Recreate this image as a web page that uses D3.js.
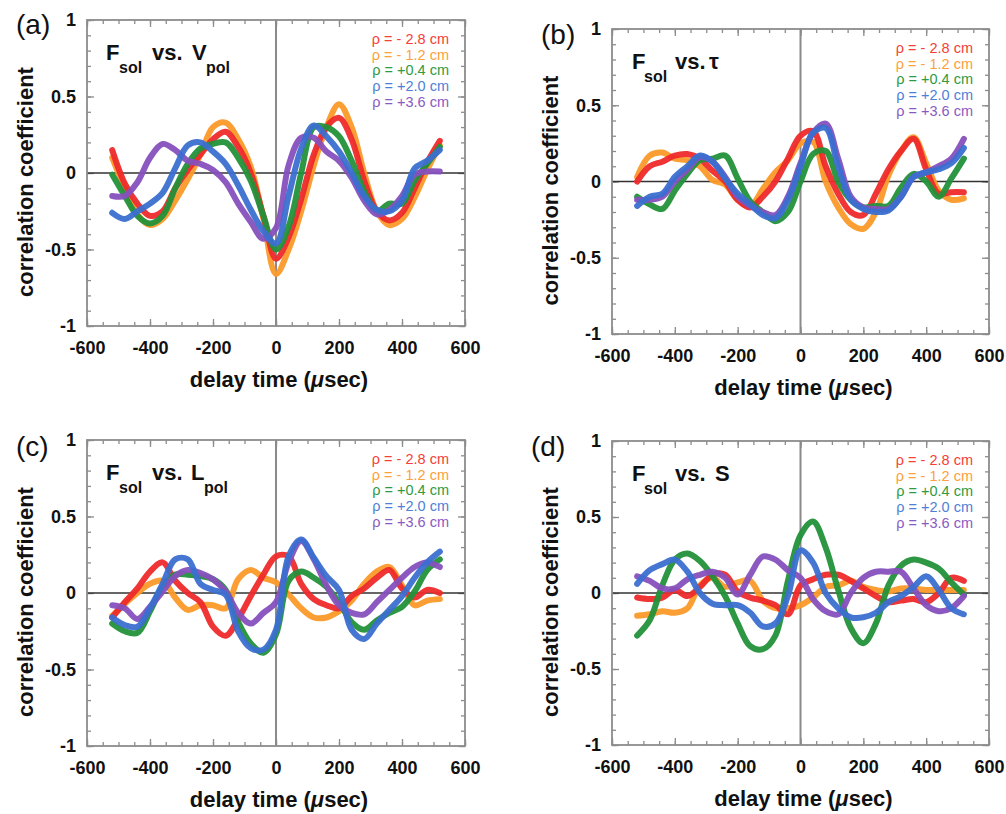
<!DOCTYPE html>
<html>
<head>
<meta charset="utf-8">
<script src="https://cdn.jsdelivr.net/npm/d3@7"></script>
<style>
  body { margin: 0; background: #fff; }
  svg { font-family: "Liberation Sans", Arial, sans-serif; }
</style>
</head>
<body>
<div id="chart"></div>
<script>
// delay axis shared by all series (usec)
const delays = [-520, -480, -440, -400, -360, -320, -280, -240, -200, -160, -120, -80, -40,
  0, 40, 80, 120, 160, 200, 240, 280, 320, 360, 400, 440, 480, 520];

const rhoLabels = ["ρ = - 2.8 cm", "ρ = - 1.2 cm", "ρ = +0.4 cm", "ρ = +2.0 cm", "ρ = +3.6 cm"];
const xTicks = [-600, -400, -200, 0, 200, 400, 600];
const yTicks = [-1, -0.5, 0, 0.5, 1];

// (a) F_sol vs V_pol
const vpol_m28 = [0.15, -0.07, -0.2, -0.28, -0.25, -0.1, 0.02, 0.12, 0.22, 0.27, 0.17, 0.0, -0.28,
  -0.56, -0.42, -0.17, 0.12, 0.3, 0.36, 0.22, -0.05, -0.25, -0.31, -0.26, -0.1, 0.07, 0.21];
const vpol_m12 = [0.1, -0.1, -0.27, -0.34, -0.3, -0.18, -0.04, 0.12, 0.3, 0.33, 0.22, 0.04, -0.3,
  -0.66, -0.5, -0.25, 0.05, 0.3, 0.45, 0.3, 0.0, -0.25, -0.34, -0.3, -0.16, 0.02, 0.18];
const vpol_p04 = [-0.01, -0.15, -0.28, -0.33, -0.28, -0.1, 0.06, 0.16, 0.19, 0.2, 0.1, -0.05, -0.28,
  -0.5, -0.35, 0.0, 0.3, 0.3, 0.24, 0.08, -0.12, -0.25, -0.2, -0.2, -0.05, 0.06, 0.17];
const vpol_p20 = [-0.26, -0.3, -0.25, -0.2, -0.13, 0.03, 0.18, 0.2, 0.14, 0.06, -0.08, -0.24, -0.38,
  -0.46, -0.15, 0.16, 0.31, 0.24, 0.14, 0.0, -0.15, -0.24, -0.25, -0.18, 0.03, 0.08, 0.15];
const vpol_p36 = [-0.15, -0.15, -0.06, 0.1, 0.19, 0.15, 0.08, 0.06, 0.02, -0.06, -0.2, -0.32, -0.43,
  -0.36, 0.05, 0.23, 0.23, 0.14, 0.08, -0.03, -0.18, -0.27, -0.24, -0.15, -0.01, 0.01, 0.01];

// (b) F_sol vs tau
const tau_m28 = [0.0, 0.1, 0.13, 0.17, 0.18, 0.15, 0.07, 0.0, -0.12, -0.17, -0.1, 0.0, 0.15,
  0.3, 0.33, 0.1, -0.08, -0.2, -0.22, -0.08, 0.08, 0.2, 0.28, 0.08, -0.08, -0.07, -0.07];
const tau_m12 = [0.03, 0.17, 0.19, 0.15, 0.14, 0.1, 0.01, -0.02, -0.12, -0.16, -0.05, 0.06, 0.14,
  0.25, 0.26, 0.0, -0.17, -0.28, -0.31, -0.2, 0.04, 0.2, 0.29, 0.12, -0.06, -0.12, -0.11];
const tau_p04 = [-0.1, -0.15, -0.18, -0.06, 0.05, 0.14, 0.15, 0.17, 0.02, -0.13, -0.2, -0.26, -0.2,
  0.0, 0.18, 0.2, 0.0, -0.12, -0.17, -0.16, -0.16, -0.04, 0.05, 0.0, -0.1, 0.02, 0.15];
const tau_p20 = [-0.16, -0.1, -0.08, 0.03, 0.1, 0.17, 0.13, 0.02, -0.08, -0.15, -0.22, -0.24, -0.12,
  0.1, 0.32, 0.35, 0.1, -0.12, -0.18, -0.2, -0.19, -0.1, 0.03, 0.06, 0.08, 0.12, 0.22];
const tau_p36 = [-0.12, -0.12, -0.1, 0.0, 0.08, 0.16, 0.13, 0.03, -0.1, -0.16, -0.2, -0.22, -0.1,
  0.12, 0.32, 0.38, 0.15, -0.1, -0.17, -0.18, -0.18, -0.1, 0.03, 0.06, 0.1, 0.15, 0.28];

// (c) F_sol vs L_pol
const lpol_m28 = [-0.16, -0.06, 0.03, 0.14, 0.2, 0.08, 0.0, -0.06, -0.22, -0.28, -0.17, -0.02, 0.12,
  0.24, 0.24, 0.06, -0.04, -0.08, -0.1, -0.02, 0.03, 0.1, 0.15, 0.03, -0.03, 0.02, 0.0];
const lpol_m12 = [-0.15, -0.07, 0.0, 0.06, 0.08, -0.03, -0.11, -0.08, -0.08, -0.1, 0.09, 0.15, 0.1,
  0.07, -0.01, -0.1, -0.16, -0.16, -0.12, -0.05, 0.06, 0.14, 0.17, 0.05, -0.08, -0.05, -0.04];
const lpol_p04 = [-0.2, -0.25, -0.26, -0.12, 0.04, 0.12, 0.12, 0.11, 0.09, 0.02, -0.19, -0.33, -0.39,
  -0.27, 0.08, 0.14, 0.1, 0.04, -0.06, -0.19, -0.24, -0.18, -0.13, -0.09, 0.01, 0.15, 0.22];
const lpol_p20 = [-0.16, -0.21, -0.22, -0.1, 0.06, 0.22, 0.22, 0.06, 0.02, -0.01, -0.25, -0.36, -0.37,
  -0.24, 0.24, 0.35, 0.23, 0.11, 0.02, -0.24, -0.3, -0.2, -0.11, -0.02, 0.1, 0.2, 0.27];
const lpol_p36 = [-0.08, -0.1, -0.17, -0.09, 0.01, 0.11, 0.15, 0.13, 0.09, 0.01, -0.13, -0.2, -0.13,
  -0.06, 0.2, 0.34, 0.22, 0.05, -0.08, -0.13, -0.14, -0.06, 0.02, 0.1, 0.17, 0.2, 0.17];

// (d) F_sol vs S
const s_m28 = [-0.03, -0.04, -0.03, 0.02, -0.02, 0.04, 0.12, 0.12, 0.01, -0.03, -0.05, -0.08, -0.14,
  0.05, 0.09, 0.12, 0.12, 0.08, 0.03, -0.02, -0.06, -0.05, -0.04, -0.06, 0.0, 0.1, 0.08];
const s_m12 = [-0.15, -0.14, -0.12, -0.13, -0.1, 0.05, 0.1, 0.04, 0.07, 0.08, -0.05, -0.1, -0.1,
  -0.08, -0.03, 0.04, 0.05, 0.08, 0.04, 0.02, 0.01, 0.03, 0.03, 0.02, 0.02, 0.02, 0.02];
const s_p04 = [-0.28, -0.18, 0.05, 0.22, 0.26, 0.21, 0.11, -0.02, -0.2, -0.35, -0.37, -0.28, 0.08,
  0.38, 0.47, 0.3, 0.02, -0.23, -0.33, -0.2, 0.05, 0.18, 0.22, 0.2, 0.16, 0.07, -0.01];
const s_p20 = [0.06, 0.15, 0.19, 0.22, 0.14, 0.0, -0.07, -0.08, -0.08, -0.13, -0.22, -0.2, -0.02,
  0.28, 0.2, 0.0, -0.1, -0.16, -0.16, -0.13, -0.06, -0.02, 0.04, 0.11, 0.02, -0.1, -0.14];
const s_p36 = [0.11, 0.08, 0.03, 0.03, 0.09, 0.12, 0.14, 0.1, -0.01, 0.12, 0.24, 0.22, 0.15,
  0.1, -0.04, -0.12, -0.14, 0.0, 0.1, 0.14, 0.14, 0.14, 0.03, -0.08, -0.12, -0.1, -0.02];

const colors = ["#ee2a2a", "#fb9a2a", "#23913a", "#3b6fd0", "#8650bd"];
const legendColors = ["#f5403a", "#fca040", "#2f9a42", "#4f80d8", "#8a5ac2"];
// draw order: orange, red, green, purple, blue
const drawOrder = [1, 0, 2, 4, 3];

const panels = [
  { tag: "(a)", tagX: 16, tagY: 34, left: 87, top: 20, w: 378, h: 306,
    title: [["F", 19, 0], ["sol", 32, 1], ["vs.", 65, 0], ["V", 105, 0], ["pol", 119, 1]],
    series: [vpol_m28, vpol_m12, vpol_p04, vpol_p20, vpol_p36] },
  { tag: "(b)", tagX: 541, tagY: 44, left: 612, top: 29, w: 377, h: 305,
    title: [["F", 20, 0], ["sol", 32, 1], ["vs.", 63, 0], ["τ", 97, 0]],
    series: [tau_m28, tau_m12, tau_p04, tau_p20, tau_p36] },
  { tag: "(c)", tagX: 16, tagY: 456, left: 87, top: 440, w: 378, h: 306,
    title: [["F", 19, 0], ["sol", 32, 1], ["vs.", 65, 0], ["L", 104, 0], ["pol", 117, 1]],
    series: [lpol_m28, lpol_m12, lpol_p04, lpol_p20, lpol_p36] },
  { tag: "(d)", tagX: 531, tagY: 456, left: 612, top: 441, w: 377, h: 304,
    title: [["F", 20, 0], ["sol", 32, 1], ["vs.", 63, 0], ["S", 103, 0]],
    series: [s_m28, s_m12, s_p04, s_p20, s_p36] }
];

const svg = d3.select("#chart").append("svg")
  .attr("width", 1006)
  .attr("height", 814);

const frameColor = "#8c8c8c";

panels.forEach(p => {
  const x = d3.scaleLinear().domain([-600, 600]).range([0, p.w]);
  const y = d3.scaleLinear().domain([-1, 1]).range([p.h, 0]);

  const g = svg.append("g").attr("transform", `translate(${p.left},${p.top})`);

  // minor + major ticks on all four sides, pointing inward
  const minorX = d3.range(-600, 601, 50);
  const minorY = d3.range(-10, 11).map(v => v / 10);
  const tickAxes = [
    [d3.axisBottom(x).tickValues(minorX).tickSize(-4), `translate(0,${p.h})`],
    [d3.axisBottom(x).tickValues(xTicks).tickSize(-7), `translate(0,${p.h})`],
    [d3.axisTop(x).tickValues(minorX).tickSize(-4), null],
    [d3.axisTop(x).tickValues(xTicks).tickSize(-7), null],
    [d3.axisLeft(y).tickValues(minorY).tickSize(-4), null],
    [d3.axisLeft(y).tickValues(yTicks).tickSize(-7), null],
    [d3.axisRight(y).tickValues(minorY).tickSize(-4), `translate(${p.w},0)`],
    [d3.axisRight(y).tickValues(yTicks).tickSize(-7), `translate(${p.w},0)`]
  ];
  tickAxes.forEach(([ax, tr]) => {
    const a = g.append("g").call(ax.tickFormat(""));
    if (tr) a.attr("transform", tr);
    a.select(".domain").remove();
    a.selectAll("line").attr("stroke", frameColor).attr("stroke-width", 1.3);
  });

  // tick labels (plain hyphen minus, as in the original)
  const xl = g.append("g")
    .attr("transform", `translate(0,${p.h})`)
    .call(d3.axisBottom(x).tickValues(xTicks).tickSize(0).tickPadding(15).tickFormat(d => String(d)));
  xl.select(".domain").remove();
  xl.selectAll("text").attr("font-size", 18).attr("font-weight", "bold").attr("fill", "#111")
    .attr("font-family", "Liberation Sans, Arial, sans-serif");

  const yl = g.append("g")
    .call(d3.axisLeft(y).tickValues(yTicks).tickSize(0).tickPadding(11).tickFormat(d => String(d)));
  yl.select(".domain").remove();
  yl.selectAll("text").attr("font-size", 18).attr("font-weight", "bold").attr("fill", "#111")
    .attr("font-family", "Liberation Sans, Arial, sans-serif");

  // zero lines
  g.append("line")
    .attr("x1", x(0)).attr("x2", x(0)).attr("y1", 0).attr("y2", p.h)
    .attr("stroke", "#8a8a8a").attr("stroke-width", 2);
  g.append("line")
    .attr("x1", 0).attr("x2", p.w).attr("y1", y(0)).attr("y2", y(0))
    .attr("stroke", "#333").attr("stroke-width", 1.5);

  // series
  const line = d3.line()
    .x((d, i) => x(delays[i]))
    .y(d => y(d))
    .curve(d3.curveCatmullRom.alpha(0.5));

  drawOrder.forEach(k => {
    g.append("path")
      .attr("d", line(p.series[k]))
      .attr("fill", "none")
      .attr("stroke", colors[k])
      .attr("stroke-width", 6)
      .attr("stroke-linejoin", "round")
      .attr("stroke-linecap", "round")
      .attr("opacity", 0.95);
  });

  // frame
  g.append("rect")
    .attr("width", p.w).attr("height", p.h)
    .attr("fill", "none").attr("stroke", frameColor).attr("stroke-width", 1.8);

  // legend
  rhoLabels.forEach((t, i) => {
    g.append("text")
      .attr("x", p.w - 16)
      .attr("y", 24 + i * 15.7)
      .attr("text-anchor", "end")
      .attr("font-size", 14.5)
      .attr("fill", legendColors[i])
      .text(t);
  });

  // title
  p.title.forEach(([t, dx, sub]) => {
    g.append("text")
      .attr("x", dx)
      .attr("y", sub ? 53 : 40)
      .attr("font-size", sub ? 16 : 22)
      .attr("font-weight", "bold")
      .attr("fill", "#111")
      .text(t);
  });

  // axis titles
  const xt = g.append("text")
    .attr("x", p.w / 2 + 3)
    .attr("y", p.h + 61)
    .attr("text-anchor", "middle")
    .attr("font-size", 22)
    .attr("font-weight", "bold")
    .attr("fill", "#111");
  xt.append("tspan").text("delay time (");
  xt.append("tspan").attr("font-style", "italic").text("μ");
  xt.append("tspan").text("sec)");

  g.append("text")
    .attr("transform", `translate(${-54},${p.h / 2 + 9}) rotate(-90)`)
    .attr("text-anchor", "middle")
    .attr("font-size", 22)
    .attr("font-weight", "bold")
    .attr("fill", "#111")
    .text("correlation coefficient");

  // panel tag
  svg.append("text")
    .attr("x", p.tagX)
    .attr("y", p.tagY)
    .attr("font-size", 28)
    .attr("fill", "#111")
    .text(p.tag);
});
</script>
</body>
</html>
